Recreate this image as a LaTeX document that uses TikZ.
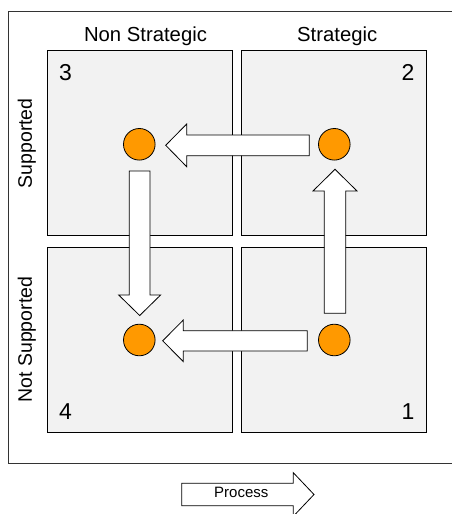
\documentclass[tikz,border=0pt]{standalone}
\usepackage{fontspec}
\setmainfont{Liberation Sans}
\begin{document}
\begin{tikzpicture}[x=1pt,y=-1pt,
  quad/.style={draw=black,line width=0.9pt,fill=quadgray,minimum width=185pt,minimum height=185pt,inner sep=0pt},
  dot/.style={circle,draw=black,line width=0.8pt,fill=dotorange,minimum size=31.6pt,inner sep=0pt},
  blockarrow/.style={draw=black,line width=0.8pt,fill=white,line join=miter},
  header/.style={font=\fontsize{20.3}{23}\selectfont,anchor=base,inner sep=0pt},
  axislabel/.style={font=\fontsize{19.5}{22}\selectfont,anchor=base,rotate=90,inner sep=0pt},
  cornernum/.style={font=\fontsize{23}{26}\selectfont,inner sep=0pt},
  procname/.style={font=\fontsize{15}{18}\selectfont,anchor=base,inner sep=0pt}]
\definecolor{quadgray}{HTML}{F2F2F2}
\definecolor{dotorange}{HTML}{FF9900}
\useasboundingbox (0,0) rectangle (452,514);

% outer frame, open on the right
\draw[line width=0.9pt,draw=black!80] (460,11) -- (8,11) -- (8,463) -- (460,463);

% the four quadrants
\node[quad] (q3) at (140,143.4) {};
\node[quad] (q2) at (334.2,143.4) {};
\node[quad] (q4) at (140,339.6) {};
\node[quad] (q1) at (334.2,339.6) {};

% column and row labels
\node[header] (ns) at (145.5,41.6) {Non Strategic};
\node[header] (st) at (337.2,41.6) {Strategic};
\node[axislabel] (sup) at (31.8,143.3) {Supported};
\node[axislabel] (nsup) at (31.8,339.7) {Not Supported};

% quadrant numbers
\node[cornernum,anchor=base west] (n3) at (58.8,80.5) {3};
\node[cornernum,anchor=base east] (n2) at (414.5,80.5) {2};
\node[cornernum,anchor=base west] (n4) at (59,419.5) {4};
\node[cornernum,anchor=base east] (n1) at (414.5,419.5) {1};

% block arrows between the positions
\draw[blockarrow] (309.3,135) -- (186.7,135) -- (186.7,124) -- (165.7,145.3)
  -- (186.7,166.7) -- (186.7,155.7) -- (309.3,155.7) -- cycle;
\draw[blockarrow] (307.3,330.7) -- (183.3,330.7) -- (183.3,320) -- (162.7,340.8)
  -- (183.3,361.6) -- (183.3,351) -- (307.3,351) -- cycle;
\draw[blockarrow] (324.3,313.3) -- (324.3,191) -- (313,191) -- (335,169.3)
  -- (357,191) -- (345.7,191) -- (345.7,313.3) -- cycle;
\draw[blockarrow] (129.3,171) -- (129.3,295) -- (118.7,295) -- (139.7,315.5)
  -- (160.6,295) -- (150,295) -- (150,171) -- cycle;

% positions
\node[dot] (c3) at (139.3,144.3) {};
\node[dot] (c2) at (334.3,144.3) {};
\node[dot] (c4) at (139.3,340) {};
\node[dot] (c1) at (334.3,340) {};

% process arrow below the frame
\draw[blockarrow] (181.7,483.3) -- (293.3,483.3) -- (293.3,472.7) -- (314,494.5)
  -- (293.3,516.3) -- (293.3,505.7) -- (181.7,505.7) -- cycle;
\node[procname] (proc) at (241.3,497.3) {Process};
\end{tikzpicture}
\end{document}
